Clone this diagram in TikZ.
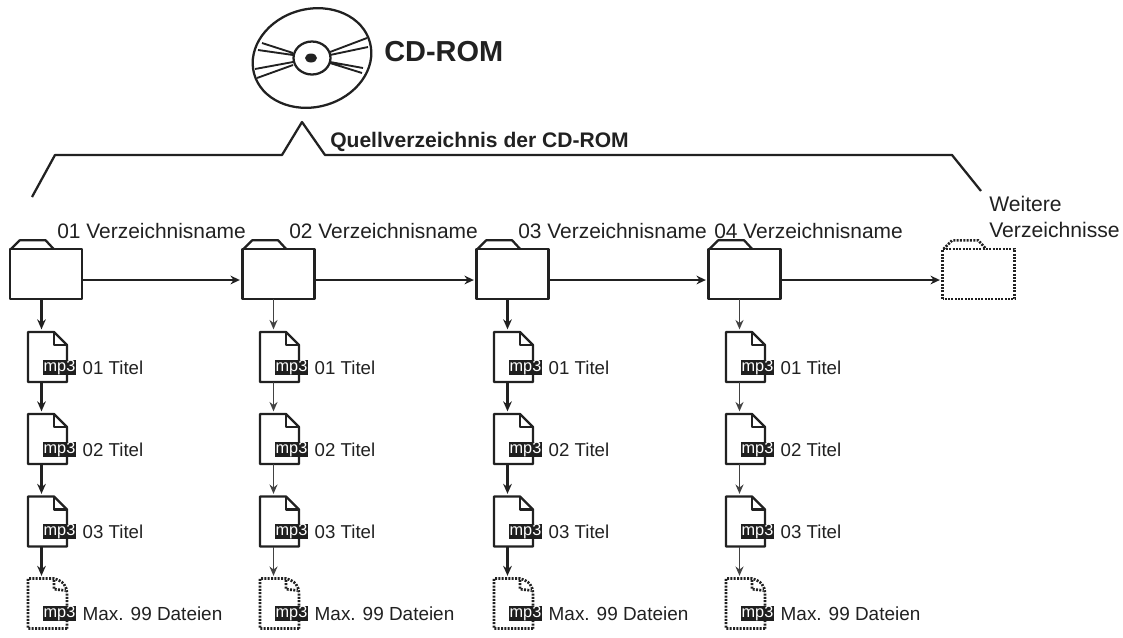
\documentclass[tikz,border=0pt]{standalone}
\usepackage{fontspec}
\setmainfont{Liberation Sans}
\usetikzlibrary{arrows.meta}
\definecolor{ink}{gray}{0.13}
\tikzset{
  line/.style={draw=ink,line width=1.7pt,line join=round},
  dots/.style={draw=ink,line width=2pt,dash pattern=on 1.5pt off 1pt},
  ray/.style={draw=ink,line width=1.4pt},
  harrow/.style={draw=ink,line width=1.6pt,-{Stealth[length=7pt,width=6.5pt]},shorten >=2pt},
  thickarrow/.style={draw=ink,line width=1.7pt,-{Stealth[length=7.5pt,width=6.5pt]},shorten >=2pt},
  thinarrow/.style={draw=ink!85,line width=1pt,-{Stealth[length=7pt,width=6pt]},shorten >=2pt},
  hanchor/.style={inner sep=0pt,outer sep=0pt,minimum width=54pt,minimum height=37.5pt},
  fanchor/.style={inner sep=0pt,outer sep=0pt,minimum width=29.25pt,minimum height=37.5pt},
  tagbox/.style={fill=black!88,text=white,inner sep=0pt,minimum width=25pt,minimum height=11.25pt,font=\fontsize{12.2}{12}\selectfont},
  titlelabel/.style={anchor=west,inner sep=0pt,text=ink,font=\fontsize{14}{15}\selectfont},
  maxlabel/.style={titlelabel,font=\fontsize{14.2}{15}\selectfont},
  dirlabel/.style={anchor=west,inner sep=0pt,text=ink,font=\fontsize{15.7}{19.5}\selectfont},
}
% \foldershape{name}{style}
\newcommand{\foldershape}[2]{%
  \draw[#2] (#1.south west) rectangle (#1.north east);
  \draw[#2] ([xshift=.75pt]#1.north west) -- ++(6.5pt,6.5pt) -- ++(19.5pt,0pt) -- ++(6pt,-6.5pt);
}
% solid document outline with a folded corner
\newcommand{\solidfile}[1]{%
  \draw[line] (#1.south west) -- (#1.north west) -- ([xshift=-9.75pt]#1.north east)
     -- ([yshift=-9.75pt]#1.north east) -- (#1.south east) -- cycle;
  \draw[line] ([xshift=-9.75pt]#1.north east) -- ([xshift=-9.75pt,yshift=-9.75pt]#1.north east) -- ([yshift=-9.75pt]#1.north east);
}
% dotted document outline: the folded corner is rounded, the others are sharp
\newcommand{\dottedfile}[1]{%
  \draw[dots] (#1.south east) -- (#1.south west) -- (#1.north west) -- ([xshift=-9.75pt]#1.north east)
     .. controls ([xshift=-3pt,yshift=-2pt]#1.north east) and ([yshift=-5pt]#1.north east) .. ([yshift=-12pt]#1.north east) -- (#1.south east);
  \draw[dots] ([xshift=-9.75pt,yshift=-1pt]#1.north east) -- ([xshift=-9.75pt,yshift=-8pt]#1.north east) -- ([xshift=-1pt,yshift=-9pt]#1.north east);
}
\begin{document}
\begin{tikzpicture}[x=0.75pt,y=-0.75pt]
\useasboundingbox (0,0) rectangle (1123,637);
\fill[white] (0,0) rectangle (1123,637);
% CD
\coordinate (cd) at (312,58);
\draw[line,rotate around={15:(cd)}] (cd) ellipse [x radius=60,y radius=49];
\draw[line] (cd) ellipse [x radius=18.5,y radius=16.5];
\fill[ink] (311,58) ellipse [x radius=6,y radius=4.5];
\draw[ray]
  (262,43)--(293,53) (258,50)--(293,55)
  (255,69)--(293,62) (257,78)--(293,65)
  (330,52)--(367,38) (330,55)--(368,47)
  (330,62)--(363,68) (330,63)--(362,73);
\node[anchor=west,inner sep=0pt,text=ink,font=\bfseries\fontsize{21.7}{24}\selectfont] (cdlabel) at (384,52) {CD-ROM};
% bracket
\draw[line] (32,197) -- (55,155) -- (282,155) -- (302,122) -- (325,155) -- (952,155) -- (981,191);
\node[anchor=west,inner sep=0pt,text=ink,font=\bfseries\fontsize{15.8}{18}\selectfont] (src) at (330,142) {Quellverzeichnis der CD-ROM};
% folders
\node[hanchor] (d1) at (46,274) {};
\node[hanchor] (d2) at (278.5,274) {};
\node[hanchor] (d3) at (512.5,274) {};
\node[hanchor] (d4) at (744.5,274) {};
\node[hanchor] (d5) at (978.5,274) {};
\foreach \n in {1,2,3,4}{\foldershape{d\n}{line}}
\foldershape{d5}{dots}
\node[dirlabel] (dl1) at (57,231) {01 Verzeichnisname};
\node[dirlabel] (dl2) at (289,231) {02 Verzeichnisname};
\node[dirlabel] (dl3) at (518,231) {03 Verzeichnisname};
\node[dirlabel] (dl4) at (714,231) {04 Verzeichnisname};
\node[dirlabel,align=left,anchor=north west,font=\fontsize{15.85}{19.5}\selectfont] (dl5) at (989,196) {Weitere\\Verzeichnisse};
\foreach \a/\b in {1/2,2/3,3/4,4/5}{\draw[harrow] (d\a.east|-0,280) -- (d\b.west|-0,280);}
% files
\foreach \c/\x in {1/47.5,2/279.5,3/513.5,4/745.5}{
  \foreach \r/\y/\txt/\shp/\lab in {1/357/01 Titel/\solidfile/titlelabel,2/439/02 Titel/\solidfile/titlelabel,3/521.5/03 Titel/\solidfile/titlelabel,4/603.5/Max. 99 Dateien/\dottedfile/maxlabel}{
    \node[fanchor] (f\c\r) at (\x,\y) {};
    \shp{f\c\r}
    \node[tagbox] (t\c\r) at ([xshift=9pt,yshift=-7.5pt]f\c\r.center) {mp3};
    \node[\lab] (l\c\r) at ([xshift=4.5pt,yshift=-.3pt]t\c\r.east) {\txt};
  }
}
\foreach \c/\w in {1/thickarrow,2/thinarrow,3/thickarrow,4/thinarrow}{
  \draw[\w] ([xshift=-4.5pt]f\c1.north|-d\c.south) -- ([xshift=-4.5pt]f\c1.north);
  \draw[\w] ([xshift=-4.5pt]f\c1.south) -- ([xshift=-4.5pt]f\c2.north);
  \draw[\w] ([xshift=-4.5pt]f\c2.south) -- ([xshift=-4.5pt]f\c3.north);
  \draw[\w] ([xshift=-4.5pt]f\c3.south) -- ([xshift=-4.5pt]f\c4.north);
}
\end{tikzpicture}
\end{document}
